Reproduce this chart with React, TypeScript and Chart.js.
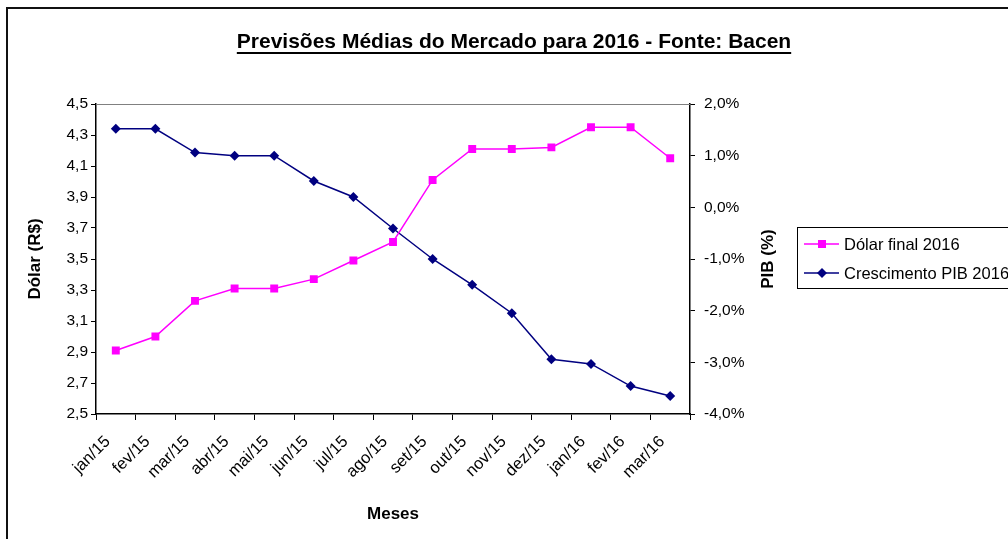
import React, { useEffect, useRef } from "react";
import { Chart, registerables } from "chart.js";

Chart.register(...registerables);

const months = ["jan/15", "fev/15", "mar/15", "abr/15", "mai/15", "jun/15", "jul/15", "ago/15", "set/15", "out/15", "nov/15", "dez/15", "jan/16", "fev/16", "mar/16"];
const dolarFinal2016 = [2.91, 3.0, 3.23, 3.31, 3.31, 3.37, 3.49, 3.61, 4.01, 4.21, 4.21, 4.22, 4.35, 4.35, 4.15];
const crescimentoPib2016 = [1.52, 1.52, 1.06, 1.0, 1.0, 0.51, 0.2, -0.41, -1.0, -1.5, -2.05, -2.94, -3.03, -3.46, -3.65];

const chartTitle = "Previsões Médias do Mercado para 2016 - Fonte: Bacen";
const xTitle = "Meses";
const yLeftTitle = "Dólar (R$)";
const yRightTitle = "PIB (%)";
const seriesNames = ["Dólar final 2016", "Crescimento PIB 2016"];

const PINK = "#FF00FF";
const NAVY = "#000080";
const FONT = "'Liberation Sans', Arial, sans-serif";

const decorPlugin = {
  id: "decor",
  afterDraw(chart: any) {
    const ctx = chart.ctx;
    const ca = chart.chartArea;
    ctx.save();
    // outer border
    ctx.fillStyle = "#111";
    ctx.fillRect(6, 7, 1200, 2);
    ctx.fillRect(6, 7, 2, 700);
    // top plot border (gray)
    ctx.strokeStyle = "#808080";
    ctx.lineWidth = 1;
    ctx.beginPath();
    ctx.moveTo(ca.left, ca.top + 0.5);
    ctx.lineTo(ca.right, ca.top + 0.5);
    ctx.stroke();
    // title
    ctx.fillStyle = "#000";
    ctx.font = `bold 21px ${FONT}`;
    ctx.textAlign = "center";
    ctx.textBaseline = "alphabetic";
    const tx = 514;
    const ty = 48;
    ctx.fillText(chartTitle, tx, ty);
    const tw = ctx.measureText(chartTitle).width;
    ctx.fillRect(tx - tw / 2, ty + 4, tw, 2);
    // x title
    ctx.font = `bold 17px ${FONT}`;
    ctx.textBaseline = "middle";
    ctx.fillText(xTitle, (ca.left + ca.right) / 2, 514);
    // left title
    const cy = (ca.top + ca.bottom) / 2;
    ctx.save();
    ctx.translate(35, cy);
    ctx.rotate(-Math.PI / 2);
    ctx.fillText(yLeftTitle, 0, 0);
    ctx.restore();
    // right title
    ctx.save();
    ctx.translate(768, cy);
    ctx.rotate(-Math.PI / 2);
    ctx.fillText(yRightTitle, 0, 0);
    ctx.restore();
    // legend
    const lx = 797, ly = 227, lh = 61;
    ctx.fillStyle = "#fff";
    ctx.fillRect(lx, ly, 300, lh);
    ctx.strokeStyle = "#000";
    ctx.lineWidth = 1;
    ctx.strokeRect(lx + 0.5, ly + 0.5, 300, lh);
    const rows = [
      { y: 244, color: PINK, style: "rect", name: seriesNames[0] },
      { y: 273, color: NAVY, style: "diamond", name: seriesNames[1] },
    ];
    ctx.font = `16.5px ${FONT}`;
    ctx.textAlign = "left";
    ctx.textBaseline = "middle";
    for (const r of rows) {
      ctx.strokeStyle = r.color;
      ctx.lineWidth = 1.5;
      ctx.beginPath();
      ctx.moveTo(804, r.y);
      ctx.lineTo(839, r.y);
      ctx.stroke();
      ctx.fillStyle = r.color;
      if (r.style === "rect") {
        ctx.fillRect(822 - 4, r.y - 4, 8, 8);
      } else {
        ctx.beginPath();
        ctx.moveTo(822, r.y - 5);
        ctx.lineTo(827, r.y);
        ctx.lineTo(822, r.y + 5);
        ctx.lineTo(817, r.y);
        ctx.closePath();
        ctx.fill();
      }
      ctx.fillStyle = "#000";
      ctx.fillText(r.name, 844, r.y + 1);
    }
    ctx.restore();
  },
};

export default function App() {
  const ref = useRef<HTMLCanvasElement | null>(null);
  useEffect(() => {
    document.body.style.overflow = "hidden";
    const canvas = ref.current!;
    const chart = new Chart(canvas, {
      type: "line",
      data: {
        labels: months,
        datasets: [
          {
            label: seriesNames[0],
            data: dolarFinal2016,
            yAxisID: "y",
            borderColor: PINK,
            backgroundColor: PINK,
            borderWidth: 1.5,
            pointStyle: "rect",
            pointRadius: 5.6,
            pointBorderWidth: 0,
            tension: 0,
          },
          {
            label: seriesNames[1],
            data: crescimentoPib2016,
            yAxisID: "y1",
            borderColor: NAVY,
            backgroundColor: NAVY,
            borderWidth: 1.5,
            pointStyle: "rectRot",
            pointRadius: 5,
            pointBorderWidth: 0,
            tension: 0,
          },
        ],
      },
      options: {
        responsive: false,
        animation: false,
        devicePixelRatio: 1,
        layout: { padding: { left: 0, top: 104, right: 238, bottom: 0 } },
        plugins: { legend: { display: false }, title: { display: false }, tooltip: { enabled: false } },
        scales: {
          x: {
            type: "category",
            offset: true,
            grid: { offset: true, drawOnChartArea: false, drawTicks: true, tickLength: 6, color: "#000", lineWidth: 1 },
            border: { display: true, color: "#000", width: 1.5 },
            ticks: {
              autoSkip: false,
              maxRotation: 45,
              minRotation: 45,
              padding: 12,
              labelOffset: -8,
              color: "#000",
              font: { family: FONT, size: 16.5 },
            },
            afterFit: (s: any) => { s.height = 125; },
          },
          y: {
            position: "left",
            min: 2.5,
            max: 4.5,
            ticks: {
              stepSize: 0.2,
              padding: 3,
              color: "#000",
              font: { family: FONT, size: 15.5 },
              callback: (v: any) => Number(v).toFixed(1).replace(".", ","),
            },
            grid: { drawOnChartArea: false, drawTicks: true, tickLength: 5, color: "#000" },
            border: { display: true, color: "#000", width: 1.5 },
            afterFit: (s: any) => { s.width = 96; },
          },
          y1: {
            position: "right",
            min: -4,
            max: 2,
            ticks: {
              stepSize: 1,
              padding: 9,
              color: "#000",
              font: { family: FONT, size: 15.5 },
              callback: (v: any) => Number(v).toFixed(1).replace(".", ",") + "%",
            },
            grid: { drawOnChartArea: false, drawTicks: true, tickLength: 5, color: "#000" },
            border: { display: true, color: "#000", width: 1.5 },
            afterFit: (s: any) => { s.width = 80; },
          },
        },
      },
      plugins: [decorPlugin],
    });
    return () => chart.destroy();
  }, []);
  return (
    <div style={{ position: "fixed", left: 0, top: 0, width: 1008, height: 539, overflow: "hidden", background: "#fff" }}>
      <canvas ref={ref} width={1008} height={539} />
    </div>
  );
}
